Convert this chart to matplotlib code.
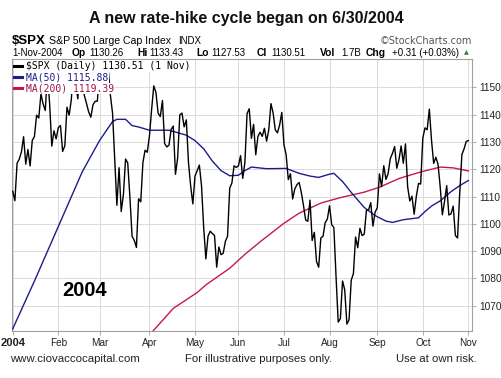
import matplotlib
matplotlib.use('Agg')
import matplotlib.pyplot as plt
from matplotlib.lines import Line2D
import numpy as np

# ---------------- data ----------------
# S&P 500 daily closes, 31-Dec-2003 .. 1-Nov-2004 (one value per trading day)
price_dec03 = [1111.92]
price_jan = [1108.48, 1122.22, 1123.67, 1126.33, 1131.92, 1121.86, 1127.23, 1121.22, 1130.52, 1132.05,
             1139.83, 1138.77, 1147.62, 1143.94, 1141.55, 1155.37, 1144.05, 1128.48, 1134.11, 1131.13]
price_feb = [1135.26, 1136.03, 1126.52, 1128.59, 1142.76, 1139.81, 1145.54, 1157.76, 1152.11, 1145.81,
             1156.99, 1151.82, 1147.06, 1144.11, 1140.99, 1139.09, 1143.67, 1144.91, 1144.94]
price_mar = [1155.97, 1149.10, 1151.03, 1154.87, 1156.86, 1147.20, 1140.58, 1123.89, 1106.78, 1120.57,
             1104.49, 1110.70, 1123.75, 1122.32, 1109.78, 1095.40, 1093.95, 1091.33, 1109.19, 1108.06,
             1122.47, 1127.00, 1126.21]
price_apr = [1132.17, 1141.81, 1150.57, 1148.16, 1140.53, 1139.32, 1145.20, 1129.44, 1128.17, 1128.84,
             1134.61, 1135.82, 1118.15, 1124.09, 1139.93, 1140.60, 1135.53, 1138.11, 1122.41, 1113.89,
             1107.30]
price_may = [1117.49, 1119.55, 1121.53, 1113.99, 1098.70, 1087.12, 1095.45, 1097.28, 1096.44, 1095.70,
             1084.10, 1091.49, 1088.68, 1089.19, 1093.56, 1095.41, 1113.05, 1114.94, 1121.28, 1120.68]
price_jun = [1121.20, 1124.99, 1116.64, 1122.50, 1140.42, 1142.18, 1131.33, 1136.47, 1125.29, 1132.01,
             1133.56, 1132.05, 1135.02, 1130.30, 1134.41, 1144.06, 1140.65, 1134.43, 1133.35, 1136.20,
             1140.84]
price_jul = [1128.94, 1125.38, 1116.21, 1118.33, 1109.11, 1112.81, 1114.35, 1115.14, 1111.47, 1106.69,
             1101.39, 1100.90, 1108.67, 1093.88, 1096.84, 1086.20, 1084.07, 1094.83, 1095.42, 1100.43,
             1101.72]
price_aug = [1106.62, 1099.69, 1098.63, 1080.70, 1063.97, 1065.22, 1079.04, 1075.79, 1063.23, 1064.80,
             1079.34, 1081.71, 1095.17, 1091.23, 1098.35, 1095.68, 1096.19, 1104.96, 1105.09, 1107.77,
             1099.15, 1104.24]
price_sep = [1105.91, 1118.31, 1113.63, 1121.30, 1116.27, 1118.38, 1123.92, 1125.82, 1128.33, 1120.37,
             1123.50, 1128.55, 1122.20, 1129.30, 1113.56, 1108.36, 1110.11, 1103.52, 1110.06, 1114.80,
             1114.58]
price_oct = [1131.50, 1135.17, 1134.48, 1142.05, 1130.65, 1122.14, 1124.39, 1121.84, 1113.65, 1103.29,
             1108.20, 1114.02, 1103.23, 1103.66, 1106.49, 1095.74, 1094.80, 1111.09, 1125.40, 1127.44,
             1130.20]
price_nov = [1130.51]

# moving averages: (trading-day index, value)
ma50_idx = [0, 10, 21, 32, 40, 46, 48, 52, 55, 58, 63, 72, 80, 84, 88, 92, 96, 100, 104, 107, 110,
            117, 126, 132, 137, 141, 146, 148, 152, 156, 162, 167, 172, 175, 180, 187, 190, 193, 197,
            202, 206, 210]
ma50_val = [1061.5, 1079, 1099, 1119, 1130.5, 1137.5, 1138.3, 1138.3, 1136, 1135.5, 1134.3, 1134.3,
            1132.5, 1130.5, 1127.5, 1123, 1119.5, 1117.6, 1117.8, 1119.5, 1120.8, 1120.2, 1120.3,
            1118.5, 1117.5, 1117, 1118.2, 1118.5, 1115.5, 1111.5, 1106, 1103, 1101, 1100.5, 1101.5,
            1102.2, 1104.5, 1106.5, 1108.4, 1111.8, 1114, 1115.88]
ma200_idx = [63, 65, 74, 85, 89, 100, 107, 114, 125, 132, 142, 151, 162, 169, 178, 188, 197, 203, 210]
ma200_val = [1059.2, 1061, 1069, 1074.8, 1077.6, 1083.7, 1088.8, 1093.4, 1100.2, 1103.9, 1107.6,
             1109.6, 1111.6, 1113.4, 1116.6, 1119.0, 1120.8, 1120.5, 1119.39]

month_labels = ['2004', 'Feb', 'Mar', 'Apr', 'May', 'Jun', 'Jul', 'Aug', 'Sep', 'Oct', 'Nov']
month_bars = [21, 19, 23, 21, 20, 21, 21, 22, 21, 21]   # bars between month ticks
y_ticks = [1070, 1080, 1090, 1100, 1110, 1120, 1130, 1140, 1150]

legend_labels = ['$SPX (Daily) 1130.51 (1 Nov)', 'MA(50) 1115.88', 'MA(200) 1119.39']

# ---------------- figure ----------------
W, H = 501, 378
fig = plt.figure(figsize=(W / 100, H / 100), dpi=100)
fig.patch.set_facecolor('white')

def P(x, y):
    return (x / W, 1 - y / H)

SANS = ['Liberation Sans', 'DejaVu Sans']

price = (price_dec03 + price_jan + price_feb + price_mar + price_apr + price_may + price_jun
         + price_jul + price_aug + price_sep + price_oct + price_nov)
xs = np.arange(len(price))

ax = fig.add_axes([12.3 / W, 1 - 331 / H, (472.3 - 12.3) / W, (331 - 58.5) / H])
ax.set_xlim(-0.2, 211.8)
ax.set_ylim(1060.7, 1160.6)

c_price = '#000000'
c_ma50 = '#1c1c8c'
c_ma200 = '#c41a4a'

ax.plot(ma200_idx, ma200_val, color=c_ma200, lw=1.0, zorder=3)
ax.plot(ma50_idx, ma50_val, color=c_ma50, lw=1.0, zorder=3)
ax.plot(xs, price, color=c_price, lw=1.0, zorder=4)

tick_pos = np.concatenate([[0], np.cumsum(month_bars)])
ax.set_xticks(tick_pos)
ax.set_xticklabels(month_labels, fontsize=7.2, family=SANS, color='#222222')
ax.get_xticklabels()[0].set_fontweight('bold')
ax.get_xticklabels()[0].set_fontsize(8)
ax.yaxis.tick_right()
ax.set_yticks(y_ticks)
ax.set_yticklabels([str(v) for v in y_ticks], fontsize=7.3, family=SANS, color='#222222')
ax.tick_params(axis='both', length=3, width=0.6, color='#a0a0a0', pad=2)
ax.grid(True, color='#dadada', lw=0.7, zorder=0)
for s in ax.spines.values():
    s.set_color('#a0a0a0')
    s.set_linewidth(0.8)

# watermark year
fig.text(*P(62.5, 291), '2004', fontsize=14.5, fontweight='bold', family=SANS,
         ha='left', va='center', color='#000000')

# legend inside plot
leg_colors = [c_price, c_ma50, '#a0104a']
leg_line_colors = [c_price, c_ma50, c_ma200]
for i, (lab, col, lcol) in enumerate(zip(legend_labels, leg_colors, leg_line_colors)):
    yy = 66 + i * 11.2
    fig.text(*P(26, yy), lab, fontsize=7, family=['DejaVu Sans Mono'], color=col,
             ha='left', va='center', zorder=10,
             bbox=dict(facecolor='white', edgecolor='none', pad=0.6))
    fig.add_artist(Line2D([14 / W, 22 / W], [1 - yy / H, 1 - yy / H], color=lcol, lw=2.2, zorder=11))

# title and header
fig.text(*P(246, 18), 'A new rate-hike cycle began on 6/30/2004', fontsize=11.5,
         fontweight='bold', family=SANS, ha='center', va='center', color='#111111')
fig.text(*P(12, 41), '$SPX', fontsize=9.5, fontweight='bold', family=SANS, ha='left', va='center')
fig.text(*P(49, 41), 'S&P 500 Large Cap Index', fontsize=7.6, family=SANS, ha='left', va='center')
fig.text(*P(178, 41), 'INDX', fontsize=7, family=SANS, ha='left', va='center')
fig.text(*P(472, 41), '\u00a9StockCharts.com', fontsize=7, family=['DejaVu Sans'], color='#555555',
         ha='right', va='center')

hdr = [(12, '1-Nov-2004', False), (72, 'Op', True), (89, '1130.26', False),
       (137, 'Hi', True), (149, '1133.43', False), (196, 'Lo', True), (211, '1127.53', False),
       (257, 'Cl', True), (271, '1130.51', False), (320, 'Vol', True), (341, '1.7B', False),
       (366, 'Chg', True), (392, '+0.31 (+0.03%)', False)]
for x, t, b in hdr:
    fig.text(*P(x, 53), t, fontsize=7.4 if b else 7.0, fontweight='bold' if b else 'normal',
             family=SANS, ha='left', va='center')
fig.text(*P(464, 52.5), '\u25b2', fontsize=4.5, family=['DejaVu Sans'], color='#2e7d32',
         ha='left', va='center')

# footer
fig.text(*P(10, 359.5), 'www.ciovaccocapital.com', fontsize=8.2, family=SANS, ha='left', va='center',
         color='#222222')
fig.text(*P(185, 359.5), 'For illustrative purposes only.', fontsize=8.2, family=SANS, ha='left',
         va='center', color='#222222')
fig.text(*P(477, 359.5), 'Use at own risk.', fontsize=8.2, family=SANS, ha='right', va='center',
         color='#222222')

fig.savefig('out.png', dpi=100, facecolor='white')
